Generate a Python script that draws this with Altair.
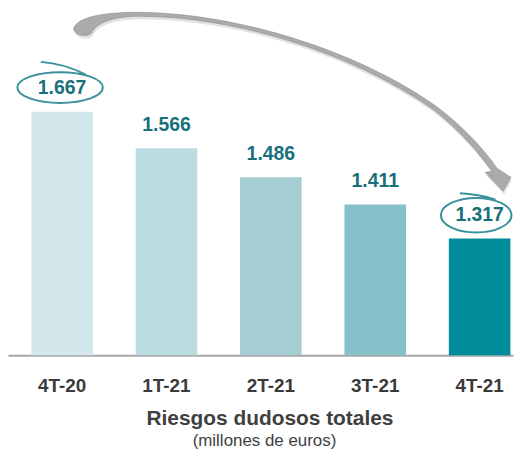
import altair as alt
import pandas as pd

# ---- data ----
periods = ["4T-20", "1T-21", "2T-21", "3T-21", "4T-21"]
values = [1667, 1566, 1486, 1411, 1317]
labels = ["1.667", "1.566", "1.486", "1.411", "1.317"]
colors = ["#D3E8EB", "#BBDCE0", "#A4CED4", "#85C1CA", "#008C9A"]
first_period = "4T-20"
last_period = "4T-21"

df = pd.DataFrame({"periodo": periods, "valor": values, "etiqueta": labels})

FONT = "Liberation Sans, Arial, sans-serif"
TEAL_TEXT = "#17707A"
PLOT_LEFT = 8  # page margin, chart padding is 0
PLOT_TOP = 8


def norm_path(cmds, cx, cy, half):
    """Build an SVG path in the [-1, 1] box used by Vega custom symbols."""
    out = []
    for c in cmds:
        op, pts = c[0], c[1:]
        coords = []
        for i in range(0, len(pts), 2):
            coords.append("%.4f,%.4f" % ((pts[i] - cx) / half, (pts[i + 1] - cy) / half))
        out.append(op + " ".join(coords))
    return " ".join(out) + "Z"


# curved arrow (decoration)
arrow_cmds = [
    ("M", 74, 28),
    ("C", 76, 18, 95, 11, 140, 11),
    ("C", 240, 12, 360, 50, 438, 105),
    ("C", 466, 126, 486, 148, 500, 168),
    ("L", 514, 177),
    ("L", 506, 191),
    ("L", 488, 172),
    ("L", 495, 171),
    ("C", 482, 153, 463, 130, 436, 109),
    ("C", 358, 54, 240, 15, 140, 15),
    ("C", 110, 15, 95, 24, 92, 32),
    ("C", 88, 36, 76, 35, 74, 28),
]
ARROW_CX, ARROW_CY, ARROW_HALF = 294, 101, 220
arrow_path = norm_path(arrow_cmds, ARROW_CX, ARROW_CY, ARROW_HALF)

ellipse1 = "M-1,0A1,0.36,0,1,0,1,0A1,0.36,0,1,0,-1,0M-0.45,-0.6Q0.1,-0.56,0.6,-0.3"
ellipse2 = "M-1,0A1,0.49,0,1,0,1,0A1,0.49,0,1,0,-1,0M-0.46,-0.62Q0.05,-0.6,0.55,-0.44"

x_enc = alt.X(
    "periodo:N",
    sort=periods,
    scale=alt.Scale(paddingInner=0.41, paddingOuter=0.124, align=0.9),
    axis=alt.Axis(
        title="Riesgos dudosos totales",
        labelAngle=0,
        ticks=False,
        domainColor="#A6A6A6",
        domainWidth=2,
        labelFont=FONT,
        labelFontSize=19,
        labelFontWeight="bold",
        labelColor="#3A3A3A",
        labelBaseline="alphabetic",
        labelPadding=36,
        titleFont=FONT,
        titleFontSize=21,
        titleFontWeight="bold",
        titleColor="#404040",
        titleX=263,
        titleY=70,
        titleBaseline="alphabetic",
        titleAlign="center",
    ),
)
y_enc = alt.Y("valor:Q", scale=alt.Scale(domain=[995, 1949.5], zero=False, nice=False), axis=None)

base = alt.Chart(df)

bars = base.mark_bar().encode(
    x=x_enc,
    y=y_enc,
    y2=alt.datum(995),
    color=alt.Color("periodo:N", scale=alt.Scale(domain=periods, range=colors), legend=None),
)

text = base.mark_text(
    font=FONT, fontSize=19.5, fontWeight="bold", color=TEAL_TEXT, baseline="alphabetic", dy=-17.5
).encode(x=alt.X("periodo:N", sort=periods), y="valor:Q", text="etiqueta:N")

ring1 = base.transform_filter(alt.datum.periodo == first_period).mark_point(
    shape=ellipse1, size=86 * 86, filled=False, stroke="#3A929C", strokeWidth=2, opacity=1,
    yOffset=-24.3, xOffset=-2,
).encode(x=alt.X("periodo:N", sort=periods), y="valor:Q")

ring2 = base.transform_filter(alt.datum.periodo == last_period).mark_point(
    shape=ellipse2, size=71 * 71, filled=False, stroke="#3A929C", strokeWidth=2, opacity=1,
    yOffset=-23.5, xOffset=-3.5,
).encode(x=alt.X("periodo:N", sort=periods), y="valor:Q")

one = alt.Chart(pd.DataFrame({"k": [0]}))
arrow_shadow = one.mark_point(
    shape=arrow_path, size=(2 * ARROW_HALF) ** 2, filled=True, fill="#CFCFCF", strokeWidth=0,
    opacity=0.6,
).encode(x=alt.value(ARROW_CX - PLOT_LEFT + 1), y=alt.value(ARROW_CY - PLOT_TOP + 3))
arrow = one.mark_point(
    shape=arrow_path, size=(2 * ARROW_HALF) ** 2, filled=True, fill="#ABABAB", stroke="#8E8E8E",
    strokeWidth=0.6, opacity=1,
).encode(x=alt.value(ARROW_CX - PLOT_LEFT), y=alt.value(ARROW_CY - PLOT_TOP))

chart = (
    alt.layer(bars, text, ring1, ring2, arrow_shadow, arrow)
    .properties(
        width=508,
        height=348,
        padding=0,
        title=alt.TitleParams(
            "(millones  de euros)",
            orient="bottom",
            anchor="middle",
            baseline="alphabetic",
            font=FONT,
            fontSize=17,
            fontWeight="normal",
            color="#404040",
            offset=17,
            dx=4,
        ),
    )
    .configure_view(stroke=None)
)

chart.save("out.html", embed_options={"renderer": "svg", "actions": False})
